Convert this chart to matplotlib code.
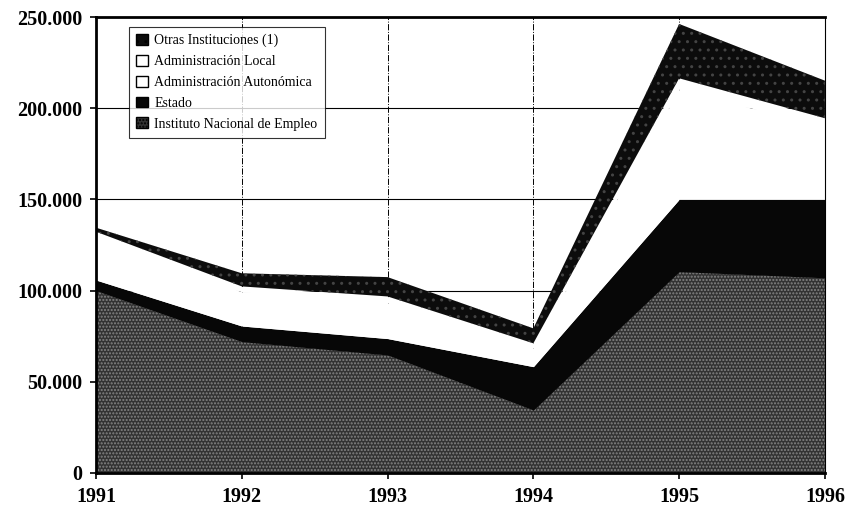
import matplotlib
matplotlib.use('Agg')
import matplotlib.pyplot as plt
from matplotlib.patches import Patch
from matplotlib.ticker import FuncFormatter

years = [1991, 1992, 1993, 1994, 1995, 1996]

# valores (personas)
inem = [100000, 72000, 64700, 34500, 110400, 107000]
estado = [5800, 8600, 9000, 23800, 39600, 43000]
autonomica = [23500, 18700, 19600, 10300, 60400, 39500]
local = [3000, 3000, 3500, 2500, 6000, 5000]
otras = [2200, 7200, 10600, 8200, 29800, 20600]

labels = ['Instituto Nacional de Empleo', 'Estado', 'Administración Autonómica',
          'Administración Local', 'Otras Instituciones (1)']

plt.rcParams['font.family'] = ['Liberation Serif', 'DejaVu Serif']
plt.rcParams['hatch.linewidth'] = 1.0

fig = plt.figure(figsize=(8.63, 5.08), dpi=100)
ax = fig.add_axes([0.1112, 0.0689, 0.8447, 0.8976])

# grid behind the areas
for yv in [50000, 100000, 150000, 200000]:
    ax.axhline(yv, color='black', lw=0.8, zorder=0)
for xv in years[1:-1]:
    ax.axvline(xv, color='black', lw=0.7, ls='-.', zorder=0)

layers = [inem, estado, autonomica, local, otras]
faces = ['#333333', '#070707', 'white', 'white', '#0c0c0c']
hatches = ['.....', None, None, None, '..']
hcols = ['#858585', '#070707', 'white', 'white', '#444444']

base = [0] * len(years)
for vals, fc, h, hc in zip(layers, faces, hatches, hcols):
    top = [b + v for b, v in zip(base, vals)]
    ax.fill_between(years, base, top, facecolor=fc, edgecolor=hc,
                    hatch=h, lw=0, zorder=2)
    base = top

ax.set_xlim(1991, 1996)
ax.set_ylim(0, 250000)
ax.set_xticks(years)
ax.set_yticks([0, 50000, 100000, 150000, 200000, 250000])
ax.yaxis.set_major_formatter(FuncFormatter(lambda v, p: f'{int(v):,}'.replace(',', '.')))
for lab in ax.get_xticklabels() + ax.get_yticklabels():
    lab.set_fontweight('bold')
    lab.set_fontsize(14.5)
ax.tick_params(axis='both', direction='out', length=4, width=1.2)
ax.tick_params(axis='y', pad=6)
ax.tick_params(axis='x', pad=6)

for side in ['left', 'bottom', 'top']:
    ax.spines[side].set_linewidth(2.0)
ax.spines['right'].set_linewidth(0.8)
for sp in ax.spines.values():
    sp.set_zorder(5)

handles = []
for lab, fc, h, hc in zip(labels, faces, hatches, hcols):
    handles.append(Patch(facecolor=fc, edgecolor='black', hatch=h, lw=1.0, label=lab))
leg = ax.legend(handles[::-1], labels[::-1], loc='upper left',
                bbox_to_anchor=(0.046, 0.978), fontsize=10, frameon=True,
                fancybox=False, edgecolor='black', handlelength=0.8,
                handleheight=0.8, handletextpad=0.5, labelspacing=0.55,
                borderpad=0.5, borderaxespad=0)
leg.get_frame().set_linewidth(0.8)
leg.set_zorder(6)

fig.savefig('out.png', dpi=100)
